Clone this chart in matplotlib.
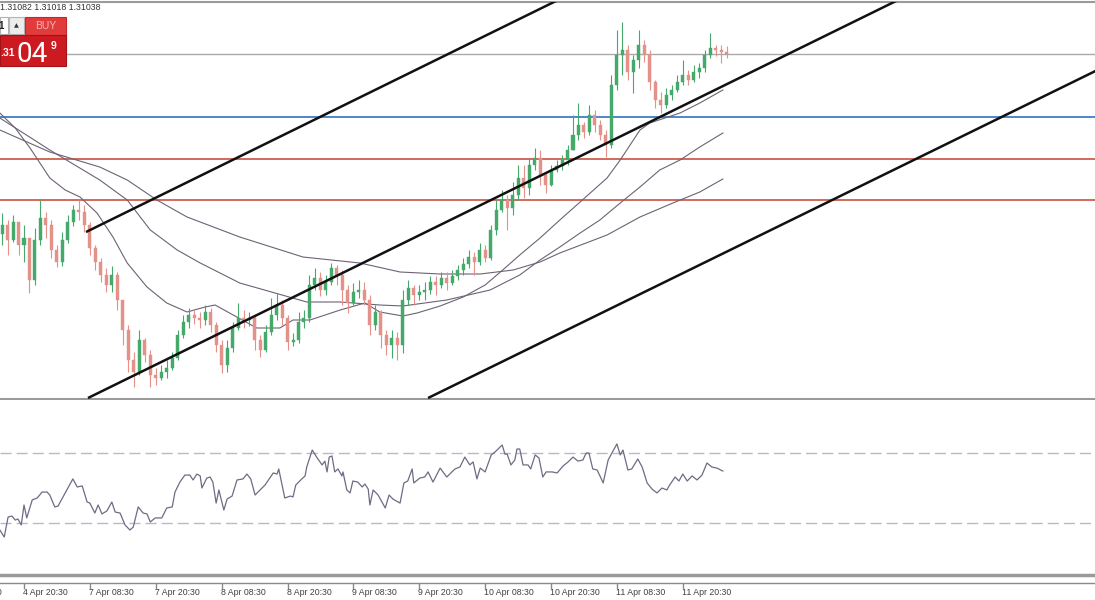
import numpy as np
import matplotlib
matplotlib.use('Agg')
import matplotlib.pyplot as plt
from matplotlib.patches import Rectangle

# hourly bars, bar 0 = 4 Apr 20:30 (weekend removed); prices in pips above 1.2900
bars = np.arange(-4, 129)
first_open = 114.0
close_pips = [118.5, 111, 120, 108.5, 112, 91, 111, 122, 118.5, 106,
              100, 111, 120, 126, 125, 118.5, 107, 100, 93.5, 88.5,
              93.5, 81, 66, 51, 45, 61, 53.5, 43.5, 42, 45,
              47, 52, 63.5, 70, 73.5, 72, 71, 75, 68.5, 58.5,
              48.5, 57, 67, 72, 71, 72, 61, 56, 65, 73.5,
              78.5, 72, 60, 61, 70, 72, 88.5, 92, 86, 90,
              97, 93.5, 86, 79.5, 85, 86, 81, 68.5, 75, 63.5,
              58.5, 62, 58.5, 81, 87, 83.5, 85, 86, 90, 88.5,
              92, 89.5, 93, 96, 99, 102.5, 100, 106, 102, 116,
              126, 131, 127, 133.5, 142, 137, 148.5, 152, 143.5, 138.5,
              146, 148, 151, 156, 163.5, 168.5, 165, 173.5, 168.5, 163.5,
              158.5, 188.5, 203.5, 206, 195, 201, 208.5, 203.5, 190, 181,
              178.5, 183.5, 186, 190, 193.5, 191, 195, 197, 203.5, 207,
              206, 205, 203.8]
high_pips = [124.5, 121, 123.5, 117, 118.5, 111, 117, 131, 125, 121,
             108.5, 115, 123.5, 128.5, 131, 128.5, 120, 108.5, 102, 97,
             98, 95, 81, 68.5, 55, 66, 62, 56, 47, 48.5,
             51, 55, 66, 73.5, 77, 76, 75, 78.5, 77, 70,
             61, 61, 70, 79.5, 76, 75, 73.5, 63.5, 68.5, 82,
             84.5, 81, 73.5, 64.5, 75, 76, 93.5, 97, 95, 93.5,
             99.5, 98.5, 96, 88.5, 89.5, 91, 90, 83.5, 78.5, 76,
             66, 66, 65, 86, 91, 88.5, 88.5, 90, 93, 93,
             95, 95, 96, 98.5, 102, 106, 105, 109.5, 108.5, 118.5,
             131, 136, 133.5, 140, 148.5, 148.5, 152, 157, 156, 145,
             148.5, 151, 153.5, 158.5, 173.5, 179.5, 170, 178.5, 176, 171,
             166, 193.5, 216, 220, 208.5, 203.5, 216, 211, 206, 191,
             185, 187, 188.5, 193.5, 201, 196, 198.5, 199.5, 206, 214.5,
             208.5, 208.5, 208.2]
low_pips = [108.5, 103.5, 110, 103.5, 100, 84.5, 88.5, 108.5, 112, 102,
            97.5, 98, 109.5, 118, 121, 115, 103.5, 96, 90, 85,
            85, 76, 58.5, 45, 37.5, 43.5, 50, 37.5, 38.5, 41,
            42, 46, 51, 62, 67, 69, 67, 68.5, 65, 55,
            44.5, 45, 55, 66, 67, 68, 56, 52.5, 55, 63.5,
            71, 68.5, 56, 58, 59.5, 67, 70, 86, 83, 83.5,
            88.5, 88.5, 78.5, 74.5, 78.5, 82, 78.5, 63.5, 66, 57,
            53.5, 52, 51, 54.5, 78.5, 78.5, 81, 81, 84, 83.5,
            87, 86, 88.5, 91, 93.5, 97, 93.5, 98.5, 100, 101,
            113.5, 125, 116, 123.5, 131, 132, 133.5, 146, 138.5, 134.5,
            138, 145, 146, 148.5, 156, 161, 162, 163.5, 165, 161,
            152.5, 157, 186, 193.5, 191, 184.5, 197, 200, 186, 177,
            174.5, 177, 181, 185, 188.5, 188.5, 190, 192, 195, 202,
            203, 199.5, 201.8]

# moving averages (bar, pips)
ma_fast_t = [-4.4, -1.6, 1.1, 4.7, 7.5, 10.2, 13.3, 16.2, 18.8, 22.4, 26.0, 29.7, 33.0,
             34.8, 38.1, 42.4, 46.6, 49.0, 52.1, 57.6, 62.1, 64.8, 69.0, 71.6, 75.8,
             80.0, 84.0, 87.2, 90.3, 94.0, 97.6, 101.3, 106.2, 108.6, 112.2, 114.0,
             119.5, 123.1, 127.3]
ma_fast = [174.5, 167, 157, 142, 136, 132.5, 124.5, 112.5, 99.5, 87.5, 79.5, 75, 77.5,
           78.5, 73.5, 67, 67, 71, 71, 76, 79.5, 75, 73, 74.5, 78,
           82.5, 88.5, 96, 103.5, 112, 121, 130, 142, 151, 166, 169.5,
           174.5, 179.5, 186]
ma_mid_t = [-4.4, 4.7, 13.8, 18.8, 23.0, 27.9, 32.1, 39.3, 51.5, 57.6, 64.8, 69.0, 77.0,
            84.9, 90.3, 94.0, 97.6, 101.3, 104.9, 108.6, 112.2, 115.8, 119.5, 123.1, 127.3]
ma_mid = [172, 156, 141, 131, 116, 106, 99.5, 89.5, 80, 80, 78.5, 78, 81,
          86, 93.5, 101, 107.5, 114.5, 121, 129.5, 137.5, 146, 151, 157.5, 164.5]
ma_slow_t = [-4.4, 4.7, 13.8, 18.8, 24.2, 29.7, 39.3, 50.8, 61.2, 68.5, 75.8, 83.1, 89.1,
             94.0, 97.6, 106.2, 112.2, 118.2, 123.1, 127.3]
ma_slow = [166, 155, 147.5, 141, 131, 122.5, 112.5, 102.5, 99.5, 95, 94, 94, 96,
           100, 104.5, 113.5, 122.5, 129.5, 135, 141.5]

# horizontal levels (pips)
level_current = 203.8
level_blue = 172.5
levels_red = [151.5, 131.0]

# channel lines: two points each (bar, pips)
channel_upper = ([11.3, 200], [115.0, 369.6])
channel_mid = ([11.66, 200], [32.0, 286.0])
channel_low = ([73.6, 200], [32.0, 202.0])

# RSI
rsi_t = [-4.4, -3.6, -2.9, -2.2, -1.6, -1.1, -0.5, 0, 0.5, 1.5,
         2.4, 3.3, 4.2, 4.7, 5.6, 6.2, 7.1, 8.9, 9.7, 10.6,
         11.5, 12.0, 12.9, 13.5, 14.2, 15.1, 16.0, 16.6, 17.5, 18.4,
         19.3, 19.9, 20.8, 21.7, 22.4, 23.0, 23.9, 25.1, 26.0, 27.0,
         27.5, 28.4, 29.3, 30.2, 30.8, 31.5, 32.1, 32.4, 33.3, 33.9,
         34.4, 35.0, 35.5, 36.4, 37.0, 37.9, 38.8, 39.9, 40.6, 41.3,
         42.1, 43.0, 43.9, 44.4, 45.4, 46.1, 46.4, 47.5, 48.5, 49.0,
         49.5, 50.6, 51.2, 51.5, 52.5, 53.4, 54.3, 54.8, 55.2, 55.6,
         56.1, 56.6, 57.2, 57.9, 58.1, 58.8, 59.4, 59.9, 60.8, 61.6,
         62.1, 62.7, 63.0, 63.6, 64.5, 65.8, 66.5, 67.2, 68.5, 69.2,
         69.9, 70.7, 71.0, 72.1, 73.0, 73.6, 74.5, 75.8, 77.0, 78.5,
         79.4, 80.3, 81.2, 81.8, 82.5, 83.1, 84.0, 85.1, 85.8, 87.1,
         87.6, 88.0, 88.7, 89.4, 89.8, 90.3, 90.9, 91.8, 92.3, 93.1,
         93.8, 94.5, 95.1, 96.2, 97.1, 98.2, 99.1, 100.0, 100.9, 101.8,
         102.4, 102.9, 103.6, 104.4, 105.5, 106.4, 108.0, 108.6, 109.1, 110.0,
         110.7, 111.8, 112.6, 113.5, 114.4, 115.3, 116.2, 117.1, 117.5, 118.6,
         119.3, 120.0, 120.8, 121.7, 122.6, 123.5, 124.4, 125.3, 126.2, 127.3]
rsi_v = [25.7, 21.7, 33.1, 33.7, 31.4, 32.0, 28.6, 40.0, 32.6, 42.9,
         44.0, 47.4, 47.4, 45.7, 38.9, 39.4, 44.6, 54.9, 50.3, 50.9,
         41.7, 41.1, 35.4, 40.0, 34.9, 36.6, 41.7, 36.0, 35.4, 28.6,
         25.7, 27.4, 38.9, 35.4, 34.9, 30.3, 32.6, 32.6, 38.3, 38.9,
         47.4, 53.1, 57.1, 57.1, 54.3, 57.7, 56.6, 49.7, 55.4, 56.0,
         53.1, 41.1, 48.6, 37.1, 43.4, 45.1, 54.3, 54.9, 57.7, 54.9,
         45.7, 48.6, 51.4, 53.7, 58.3, 57.7, 60.6, 44.0, 45.1, 44.6,
         51.4, 54.9, 56.6, 61.7, 71.4, 66.9, 62.9, 65.1, 58.9, 67.4,
         68.0, 58.9, 60.6, 56.6, 58.9, 48.6, 46.9, 53.7, 53.1, 50.3,
         52.0, 49.1, 40.0, 48.6, 45.7, 38.3, 45.7, 43.4, 41.1, 52.6,
         53.7, 60.6, 52.6, 55.4, 56.0, 58.9, 53.1, 61.1, 56.0, 60.6,
         61.7, 67.4, 62.9, 64.6, 54.9, 61.1, 58.9, 68.6, 70.3, 74.3,
         69.1, 69.1, 62.9, 65.7, 72.0, 72.0, 62.9, 62.9, 60.6, 68.6,
         66.9, 56.0, 58.9, 58.9, 58.3, 62.3, 64.6, 67.4, 65.1, 65.7,
         69.7, 69.7, 60.6, 60.0, 52.6, 65.7, 74.9, 68.6, 71.4, 60.0,
         60.6, 66.3, 61.7, 52.6, 49.1, 46.9, 49.7, 48.6, 50.9, 56.0,
         53.7, 57.7, 53.7, 56.6, 54.3, 57.1, 64.0, 61.7, 61.1, 59.4]
rsi_levels = [70, 30]

tick_bars = [-12, 0, 12, 24, 36, 48, 60, 72, 84, 96, 108, 120]
tick_labels = ['4 Apr 08:30', '4 Apr 20:30', '7 Apr 08:30', '7 Apr 20:30', '8 Apr 08:30',
               '8 Apr 20:30', '9 Apr 08:30', '9 Apr 20:30', '10 Apr 08:30', '10 Apr 20:30',
               '11 Apr 08:30', '11 Apr 20:30']
header = '1.31082 1.31018 1.31038'


def to_price(p):
    return 1.29 + np.asarray(p, dtype=float) / 1e4


plt.rcParams['font.family'] = ['Liberation Sans', 'DejaVu Sans']
W, H = 1095, 600
fig = plt.figure(figsize=(W / 100, H / 100), dpi=100)
fig.patch.set_facecolor('white')
XLIM = (-24 / 5.49, (W - 24) / 5.49)

# ---- main price panel ----
ax = fig.add_axes([0, 201 / H, 1, 397 / H])
ax.set_xlim(*XLIM)
ax.set_ylim(to_price(31.5), to_price(230))
ax.set_xticks([]); ax.set_yticks([])
for s in ['left', 'right']:
    ax.spines[s].set_visible(False)
ax.spines['top'].set_color('#9a9a9a'); ax.spines['top'].set_linewidth(1.5)
ax.spines['bottom'].set_color('#9a9a9a'); ax.spines['bottom'].set_linewidth(2.2)

ax.axhline(to_price(level_current), color='#a9a9a9', lw=1.0, zorder=1)
ax.axhline(to_price(level_blue), color='#2f72c4', lw=1.2, zorder=1)
for lv in levels_red:
    ax.axhline(to_price(lv), color='#c8513f', lw=1.2, zorder=1)

for t, v in [(ma_fast_t, ma_fast), (ma_mid_t, ma_mid), (ma_slow_t, ma_slow)]:
    ax.plot(t, to_price(v), color='#6e6276', lw=0.8, zorder=2)

c = to_price(close_pips)
o = np.r_[to_price(first_open), c[:-1]]
h = np.maximum(to_price(high_pips), np.maximum(o, c))
l = np.minimum(to_price(low_pips), np.minimum(o, c))
col = np.where(c >= o, '#44a96b', '#e4918a')
ax.vlines(bars, l, h, colors=col, lw=0.8, zorder=3)
ax.bar(bars, np.maximum(np.abs(c - o), 0.00003), bottom=np.minimum(o, c), width=0.55,
       color=col, edgecolor=col, lw=0.3, zorder=3)

for xs, ys in [channel_upper, channel_mid, channel_low]:
    ax.plot(xs, to_price(ys), color='#111111', lw=1.8, zorder=4, solid_capstyle='butt')

# ---- RSI panel ----
ax_r = fig.add_axes([0, 25 / H, 1, 175 / H])
ax_r.set_xlim(*XLIM)
ax_r.set_ylim(0, 100)
ax_r.set_xticks([]); ax_r.set_yticks([])
for s in ['left', 'right', 'top']:
    ax_r.spines[s].set_visible(False)
ax_r.spines['bottom'].set_color('#9a9a9a'); ax_r.spines['bottom'].set_linewidth(2.5)
for lv in rsi_levels:
    ax_r.axhline(lv, color='#b9b9cc', lw=1.0, ls=(0, (8, 3.6)))
ax_r.plot(rsi_t, rsi_v, color='#6c6c84', lw=0.9)

# ---- time axis ----
ax_t = fig.add_axes([0, 17 / H, 1, 0.0001])
ax_t.set_xlim(*XLIM)
ax_t.set_yticks([])
for s in ['left', 'right', 'top']:
    ax_t.spines[s].set_visible(False)
ax_t.spines['bottom'].set_color('#8a8a8a'); ax_t.spines['bottom'].set_linewidth(1.0)
ax_t.set_xticks([b for b in tick_bars if XLIM[0] < b < XLIM[1]])
ax_t.set_xticklabels([])
ax_t.tick_params(axis='x', direction='out', length=4, color='#8a8a8a', width=1)
for b, lab in zip(tick_bars, tick_labels):
    ax_t.annotate(lab, xy=(b, 0), xycoords=('data', 'axes fraction'), xytext=(-1, -5),
                  textcoords='offset pixels', ha='left', va='top', fontsize=6.3,
                  color='#404040', annotation_clip=False)

# ---- header text and BUY widget ----
def fx(x):
    return x / W


def fy(y):
    return 1 - y / H


fig.text(fx(0), fy(8), header, fontsize=6.3, color='#333333', va='center', ha='left')
widget = [
    (0, 17, 8, 17, '#ffffff', '#b0b0b0'),
    (9, 17, 15, 17, '#ececec', '#b5b5b5'),
    (25, 17, 41, 18, '#e23b3b', '#c22a2a'),
    (0, 35, 66, 31, '#cc1a20', '#a31217'),
]
for x, y, w, hh, fc, ec in widget:
    fig.add_artist(Rectangle((fx(x), fy(y + hh)), w / W, hh / H, transform=fig.transFigure,
                             facecolor=fc, edgecolor=ec, lw=0.8, zorder=5))
fig.text(fx(1), fy(26), '1', fontsize=7, fontweight='bold', color='#222222',
         ha='center', va='center', zorder=6)
fig.text(fx(16.5), fy(25.5), '\u25b2', fontsize=4.5, color='#333333',
         ha='center', va='center', zorder=6, family='DejaVu Sans')
fig.text(fx(45.5), fy(26), 'BUY', fontsize=7.5, color='#f6b3b0', ha='center', va='center', zorder=6)
fig.text(fx(0), fy(56), '.31', fontsize=7.5, fontweight='bold', color='white',
         ha='left', va='baseline', zorder=6)
fig.text(fx(17), fy(62), '04', fontsize=20, color='white', ha='left', va='baseline',
         zorder=6, family='Roboto')
fig.text(fx(51), fy(49), '9', fontsize=7.5, fontweight='bold', color='white',
         ha='left', va='baseline', zorder=6)

fig.savefig('out.png', dpi=100, facecolor='white')
